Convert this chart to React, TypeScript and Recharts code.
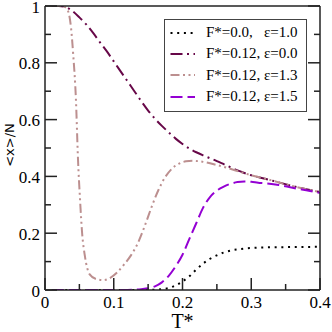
import { LineChart, Line, XAxis, YAxis, Legend, Label } from 'recharts';

// axis ticks and labels
const xMajor = [0, 0.1, 0.2, 0.3, 0.4];
const xMinor = [0.05, 0.15, 0.25, 0.35];
const xLabels = ['0', '0.1', '0.2', '0.3', '0.4'];
const yMajor = [0, 0.2, 0.4, 0.6, 0.8, 1];
const yMinor = [0.1, 0.3, 0.5, 0.7, 0.9];
const yLabels = ['0', '0.2', '0.4', '0.6', '0.8', '1'];

// F*=0.0, eps=1.0
const tA = [0.01, 0.15, 0.16, 0.17, 0.18, 0.19, 0.2, 0.21, 0.22, 0.23, 0.24, 0.25, 0.26, 0.27, 0.28, 0.29, 0.3, 0.32, 0.35, 0.4];
const vA = [0, 0, 0.001, 0.003, 0.007, 0.016, 0.03, 0.048, 0.072, 0.093, 0.11, 0.122, 0.132, 0.139, 0.143, 0.146, 0.148, 0.15, 0.151, 0.152];

// F*=0.12, eps=0.0
const tB = [0.01, 0.02, 0.03, 0.04, 0.05, 0.06, 0.07, 0.08, 0.09, 0.1, 0.11, 0.12, 0.13, 0.14, 0.15, 0.16, 0.17, 0.18, 0.19, 0.2, 0.21, 0.22, 0.23, 0.24, 0.25, 0.26, 0.27, 0.28, 0.29, 0.3, 0.32, 0.34, 0.36, 0.38, 0.4];
const vB = [1, 1, 0.996, 0.982, 0.96, 0.935, 0.905, 0.872, 0.84, 0.805, 0.77, 0.735, 0.7, 0.665, 0.632, 0.603, 0.578, 0.555, 0.533, 0.514, 0.498, 0.485, 0.474, 0.464, 0.454, 0.443, 0.432, 0.421, 0.412, 0.404, 0.392, 0.379, 0.366, 0.355, 0.345];

// F*=0.12, eps=1.3
const tC = [0.01, 0.02, 0.03, 0.035, 0.038, 0.041, 0.045, 0.048, 0.051, 0.054, 0.058, 0.065, 0.075, 0.085, 0.095, 0.105, 0.115, 0.125, 0.135, 0.145, 0.155, 0.165, 0.175, 0.185, 0.195, 0.205, 0.215, 0.225, 0.235, 0.25, 0.265, 0.28, 0.3, 0.32, 0.34, 0.36, 0.38, 0.4];
const vC = [1, 1, 0.995, 0.97, 0.92, 0.83, 0.67, 0.46, 0.317, 0.2, 0.12, 0.055, 0.038, 0.035, 0.043, 0.062, 0.09, 0.122, 0.165, 0.225, 0.292, 0.352, 0.398, 0.428, 0.445, 0.453, 0.455, 0.453, 0.449, 0.44, 0.43, 0.419, 0.404, 0.392, 0.379, 0.366, 0.355, 0.345];

// F*=0.12, eps=1.5
const tD = [0.01, 0.12, 0.13, 0.14, 0.15, 0.16, 0.17, 0.18, 0.19, 0.2, 0.21, 0.22, 0.23, 0.24, 0.25, 0.26, 0.27, 0.28, 0.29, 0.3, 0.31, 0.32, 0.34, 0.36, 0.38, 0.4];
const vD = [0, 0, 0.001, 0.003, 0.006, 0.013, 0.027, 0.05, 0.083, 0.124, 0.18, 0.235, 0.29, 0.327, 0.35, 0.364, 0.374, 0.38, 0.382, 0.381, 0.378, 0.376, 0.37, 0.36, 0.351, 0.342];

const zip = (t: number[], v: number[]) => t.map((x, i) => ({ t: x, v: v[i] }));

const series = [
  { name: 'F*=0.0, ε=1.0', data: zip(tA, vA), color: '#000000', dash: '2 4.7' },
  { name: 'F*=0.12, ε=0.0', data: zip(tB, vB), color: '#670748', dash: '12 4.5 2 4.5' },
  { name: 'F*=0.12, ε=1.3', data: zip(tC, vC), color: '#bc8f8f', dash: '9 3.5 2 3.5 2 3.5' },
  { name: 'F*=0.12, ε=1.5', data: zip(tD, vD), color: '#9400d3', dash: '12 5' },
];

const frame = '#222';
const serif = '"Liberation Serif", "Times New Roman", serif';
const near = (list: number[], v: number) => list.findIndex((m) => Math.abs(m - v) < 1e-9);
const xTicks = [...xMajor, ...xMinor].sort((a, b) => a - b);
const yTicks = [...yMajor, ...yMinor].sort((a, b) => a - b);

const BottomTick = ({ x, y, payload }: any) => {
  const i = near(xMajor, payload.value);
  return (
    <g>
      <line x1={x} x2={x} y1={y} y2={y - (i >= 0 ? 12 : 6)} stroke={frame} strokeWidth={1.5} />
      {i >= 0 && (
        <text x={x} y={y + 17.5} textAnchor="middle" fontFamily={serif} fontSize={17} fill="#000">
          {xLabels[i]}
        </text>
      )}
    </g>
  );
};

const TopTick = ({ x, y, payload }: any) => {
  const major = near(xMajor, payload.value) >= 0;
  return <line x1={x} x2={x} y1={y} y2={y + (major ? 12 : 6)} stroke={frame} strokeWidth={1.5} />;
};

const LeftTick = ({ x, y, payload }: any) => {
  const i = near(yMajor, payload.value);
  return (
    <g>
      <line x1={x} x2={x + (i >= 0 ? 12 : 6)} y1={y} y2={y} stroke={frame} strokeWidth={1.5} />
      {i >= 0 && (
        <text x={x - 5} y={y + 6.5} textAnchor="end" fontFamily={serif} fontSize={17} fill="#000">
          {yLabels[i]}
        </text>
      )}
    </g>
  );
};

const RightTick = ({ x, y, payload }: any) => {
  const major = near(yMajor, payload.value) >= 0;
  return <line x1={x} x2={x - (major ? 12 : 6)} y1={y} y2={y} stroke={frame} strokeWidth={1.5} />;
};

const LegendBox = () => (
  <div
    style={{
      width: 143,
      height: 93,
      boxSizing: 'border-box',
      border: '1.5px solid #444',
      background: '#fff',
      paddingTop: 2,
      fontFamily: serif,
      fontSize: 15,
      color: '#000',
    }}
  >
    {series.map((s) => {
      const [f, e] = s.name.split(' ');
      return (
        <div key={s.name} style={{ display: 'flex', alignItems: 'center', height: 21.3, whiteSpace: 'nowrap' }}>
          <svg width={41} height={10} style={{ flex: 'none' }}>
            <line x1={5.5} x2={30} y1={5} y2={5} stroke={s.color} strokeWidth={2} strokeDasharray={s.dash} />
          </svg>
          <span style={{ display: 'inline-block', width: 58 }}>{f}</span>
          <span>{e}</span>
        </div>
      );
    })}
  </div>
);

export default function App() {
  return (
    <div style={{ position: 'absolute', left: 0, top: 0, width: 332, height: 332, background: '#fff' }}>
      <LineChart width={332} height={332} margin={{ top: 5, right: 11, left: 44, bottom: 41 }}>
        <XAxis
          dataKey="t"
          type="number"
          domain={[0, 0.4]}
          allowDataOverflow
          ticks={xTicks}
          interval={0}
          height={1}
          tickSize={0}
          tickMargin={0}
          tickLine={false}
          tick={<BottomTick />}
          axisLine={{ stroke: frame, strokeWidth: 1.5 }}
        >
          <Label
            content={(p: any) => (
              <text
                x={p.viewBox.x + p.viewBox.width / 2}
                y={p.viewBox.y + 37.5}
                textAnchor="middle"
                fontFamily={serif}
                fontSize={20}
                fill="#000"
              >
                T*
              </text>
            )}
          />
        </XAxis>
        <XAxis
          xAxisId="top"
          orientation="top"
          type="number"
          domain={[0, 0.4]}
          allowDataOverflow
          ticks={xTicks}
          interval={0}
          height={1}
          tickSize={0}
          tickMargin={0}
          tickLine={false}
          tick={<TopTick />}
          axisLine={{ stroke: frame, strokeWidth: 1.5 }}
        />
        <YAxis
          type="number"
          domain={[0, 1]}
          allowDataOverflow
          ticks={yTicks}
          interval={0}
          width={1}
          tickSize={0}
          tickMargin={0}
          tickLine={false}
          tick={<LeftTick />}
          axisLine={{ stroke: frame, strokeWidth: 1.5 }}
        >
          <Label
            content={(p: any) => {
              const cx = p.viewBox.x - 35;
              const cy = p.viewBox.y + p.viewBox.height / 2 - 3;
              return (
                <text
                  x={cx}
                  y={cy}
                  transform={`rotate(-90 ${cx} ${cy})`}
                  textAnchor="middle"
                  dominantBaseline="central"
                  fontFamily='"DejaVu Sans", sans-serif'
                  fontSize={13}
                  fill="#000"
                >
                  {'<x>/N'}
                </text>
              );
            }}
          />
        </YAxis>
        <YAxis
          yAxisId="right"
          orientation="right"
          type="number"
          domain={[0, 1]}
          allowDataOverflow
          ticks={yTicks}
          interval={0}
          width={1}
          tickSize={0}
          tickMargin={0}
          tickLine={false}
          tick={<RightTick />}
          axisLine={{ stroke: frame, strokeWidth: 1.5 }}
        />
        {series.map((s) => (
          <Line
            key={s.name}
            name={s.name}
            data={s.data}
            dataKey="v"
            type="monotone"
            stroke={s.color}
            strokeWidth={2}
            strokeDasharray={s.dash}
            dot={false}
            activeDot={false}
            isAnimationActive={false}
          />
        ))}
        <Legend
          layout="vertical"
          align="center"
          verticalAlign="middle"
          wrapperStyle={{ left: 164, top: 19, width: 143, height: 93 }}
          content={<LegendBox />}
        />
      </LineChart>
    </div>
  );
}
